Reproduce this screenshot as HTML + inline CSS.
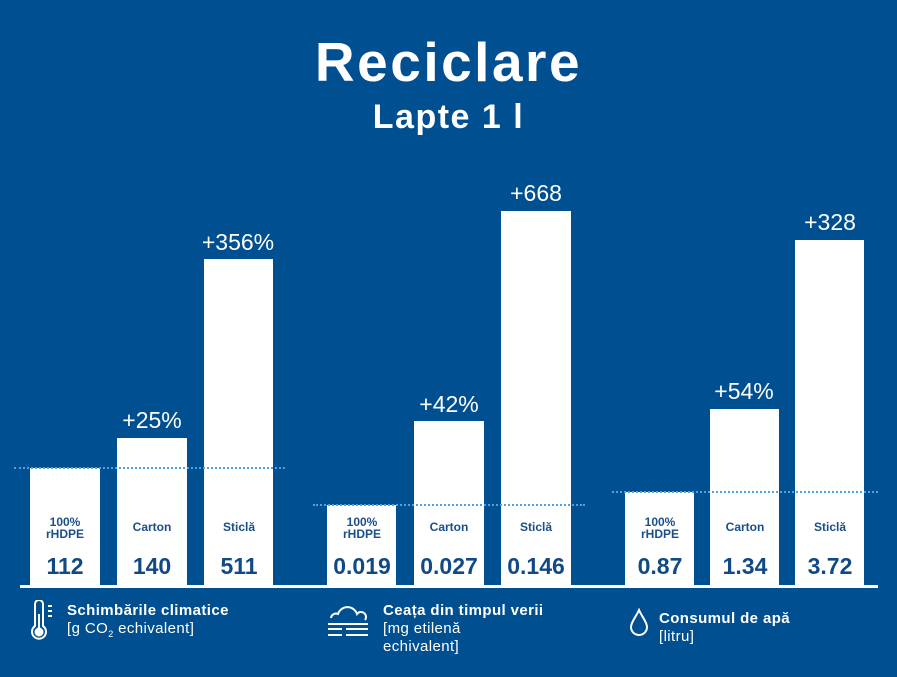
<!DOCTYPE html><html><head><style>
body{margin:0;width:897px;height:677px;background:#004f91;font-family:"Liberation Sans",sans-serif;position:relative;overflow:hidden;color:#fff}
.a{position:absolute}
.bar{position:absolute;background:#fff;bottom:91px}
.n{position:absolute;width:70px;text-align:center;color:#1b4f8a;font-weight:bold;font-size:12px;line-height:12px}
.v{position:absolute;width:80px;text-align:center;color:#104a86;font-weight:bold;font-size:23px;top:553px}
.p{position:absolute;width:110px;text-align:center;font-size:23px}
.d{position:absolute;border-top:2px dotted #4aa3e8;height:0}
.l{position:absolute;font-size:15px;line-height:18px;letter-spacing:0.4px}
.l b{font-size:15px}
</style></head><body>
<div class="a" style="top:30px;width:897px;text-align:center;font-size:55px;font-weight:bold;letter-spacing:2.5px">Reciclare</div>
<div class="a" style="top:98px;width:897px;text-align:center;font-size:34px;font-weight:bold;letter-spacing:1.5px">Lapte 1 l</div>

<div class="bar" style="left:30px;width:70px;top:468px"></div>
<div class="bar" style="left:117px;width:70px;top:438px"></div>
<div class="bar" style="left:204px;width:69px;top:259px"></div>
<div class="bar" style="left:327px;width:69px;top:505px"></div>
<div class="bar" style="left:414px;width:70px;top:421px"></div>
<div class="bar" style="left:501px;width:70px;top:211px"></div>
<div class="bar" style="left:625px;width:69px;top:492px"></div>
<div class="bar" style="left:710px;width:69px;top:409px"></div>
<div class="bar" style="left:795px;width:69px;top:240px"></div>
<div class="a" style="left:20px;top:585px;width:858px;height:3px;background:#fff"></div>

<div class="d" style="left:14px;top:467px;width:271px"></div>
<div class="d" style="left:313px;top:504px;width:272px"></div>
<div class="d" style="left:612px;top:491px;width:266px"></div>

<div class="p" style="left:97px;top:407px">+25%</div>
<div class="p" style="left:183px;top:229px">+356%</div>
<div class="p" style="left:394px;top:391px">+42%</div>
<div class="p" style="left:481px;top:180px">+668</div>
<div class="p" style="left:689px;top:378px">+54%</div>
<div class="p" style="left:775px;top:209px">+328</div>

<div class="n" style="left:30px;top:516px">100%<br>rHDPE</div>
<div class="n" style="left:117px;top:521px">Carton</div>
<div class="n" style="left:204px;top:521px">Sticlă</div>
<div class="n" style="left:327px;top:516px">100%<br>rHDPE</div>
<div class="n" style="left:414px;top:521px">Carton</div>
<div class="n" style="left:501px;top:521px">Sticlă</div>
<div class="n" style="left:625px;top:516px">100%<br>rHDPE</div>
<div class="n" style="left:710px;top:521px">Carton</div>
<div class="n" style="left:795px;top:521px">Sticlă</div>

<div class="v" style="left:25px">112</div>
<div class="v" style="left:112px">140</div>
<div class="v" style="left:199px">511</div>
<div class="v" style="left:322px">0.019</div>
<div class="v" style="left:409px">0.027</div>
<div class="v" style="left:496px">0.146</div>
<div class="v" style="left:620px">0.87</div>
<div class="v" style="left:705px">1.34</div>
<div class="v" style="left:790px">3.72</div>

<svg class="a" style="left:28px;top:600px" width="30" height="42" fill="none" stroke="#fff" stroke-width="2"><path d="M7 4a4 4 0 0 1 8 0v22a7 7 0 1 1-8 0z"/><circle cx="11" cy="32" r="3.5" fill="#fff"/><path d="M11 14v16M20 6h4M20 11h4M20 16h4"/></svg>
<div class="l" style="left:67px;top:602px"><b>Schimbările climatice</b><br>[g CO<sub style="font-size:9px">2</sub> echivalent]</div>

<svg class="a" style="left:326px;top:604px" width="46" height="34" fill="none" stroke="#fff" stroke-width="2"><path d="M5 14a5 5 0 0 1 7-4a10 10 0 0 1 19 0a5 5 0 0 1 8 6M2 20h40M2 25h14M20 25h22M2 31h14M20 31h22"/></svg>
<div class="l" style="left:383px;top:602px"><b>Ceața din timpul verii</b><br>[mg etilenă<br>echivalent]</div>

<svg class="a" style="left:628px;top:608px" width="22" height="30" fill="none" stroke="#fff" stroke-width="2"><path d="M11 2C8 9 3 14 3 19a8 8 0 0 0 16 0c0-5-5-10-8-17z"/></svg>
<div class="l" style="left:659px;top:610px"><b>Consumul de apă</b><br>[litru]</div>
</body></html>
